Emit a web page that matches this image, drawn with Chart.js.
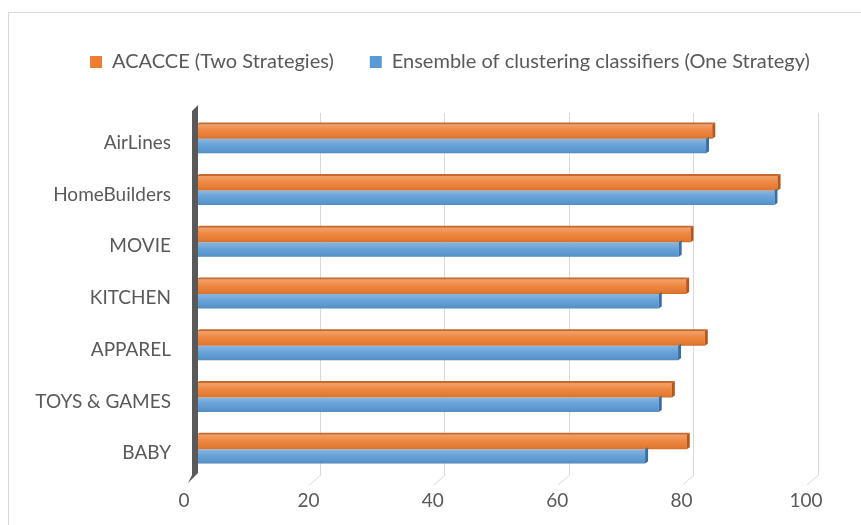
<!DOCTYPE html>
<html><head><meta charset="utf-8">
<script src="https://cdn.jsdelivr.net/npm/chart.js@4/dist/chart.umd.min.js"></script>
<style>html,body{margin:0;padding:0;background:#fff}#wrap{width:861px;height:525px;position:relative}</style>
</head><body><div id="wrap"><canvas id="c" width="861" height="525"></canvas></div>
<script>
const categories = ["AirLines","HomeBuilders","MOVIE","KITCHEN","APPAREL","TOYS & GAMES","BABY"];
const acacce = [83, 93.5, 79.5, 78.8, 81.8, 76.5, 78.9];
const ensemble = [82, 93, 77.6, 74.4, 77.5, 74.4, 72.2];
const seriesNames = ["ACACCE (Two Strategies)", "Ensemble of clustering classifiers (One Strategy)"];
const xTicks = [0,20,40,60,80,100];

const sideColors = ['#b8561a', '#3a6fa5'];
const topColors = ['#c8692c', '#4a82bb'];

const frame = {
  id:'frame',
  afterLayout(chart){
    if (chart.legend) { chart.legend.left += 36; chart.legend.right += 36; }
  },
  beforeDraw(chart){
    const c = chart.ctx; c.save();
    c.fillStyle='#fff'; c.fillRect(0,0,chart.width,chart.height);
    c.strokeStyle='#d9d9d9'; c.lineWidth=1;
    c.strokeRect(8.5,12.5,900,600);
    c.restore();
  },
  afterDatasetsDraw(chart){
    const c = chart.ctx, x = chart.scales.x, a = chart.chartArea;
    c.save();
    chart.data.datasets.forEach((ds, di) => {
      chart.getDatasetMeta(di).data.forEach(el => {
        const top = el.y - el.height/2, bot = el.y + el.height/2, l = el.base, r = el.x;
        const g = c.createLinearGradient(0, top, 0, bot);
        g.addColorStop(0, 'rgba(255,255,255,0.28)');
        g.addColorStop(0.5, 'rgba(255,255,255,0.05)');
        g.addColorStop(1, 'rgba(0,0,0,0.10)');
        c.fillStyle = g; c.fillRect(l, top, r - l, bot - top);
        if (di === 0) {
          c.fillStyle = topColors[di];
          c.beginPath(); c.moveTo(l, top); c.lineTo(r, top); c.lineTo(r+3, top-2); c.lineTo(l+3, top-2); c.closePath(); c.fill();
        }
        c.fillStyle = sideColors[di];
        c.beginPath(); c.moveTo(r, top); c.lineTo(r+3, top-2); c.lineTo(r+3, bot-2); c.lineTo(r, bot); c.closePath(); c.fill();
      });
    });
    c.strokeStyle='#d9d9d9'; c.lineWidth=1;
    xTicks.forEach(v=>{ if(v===0) return; const px = x.getPixelForValue(v);
      c.beginPath(); c.moveTo(px+0.5,a.bottom); c.lineTo(px-11,a.bottom+10); c.stroke(); });
    c.fillStyle='#595959';
    c.beginPath(); c.moveTo(a.left-4,a.top-2); c.lineTo(a.left+2,a.top-8); c.lineTo(a.left+2,a.bottom-2); c.lineTo(a.left-8,a.bottom+8); c.lineTo(a.left-4,a.bottom); c.closePath(); c.fill();
    c.restore();
  }
};

new Chart(document.getElementById('c'), {
  type:'bar',
  data:{ labels:categories, datasets:[
    {label:seriesNames[0], data:acacce, backgroundColor:'#ED7D31', borderWidth:0, categoryPercentage:0.56, barPercentage:1},
    {label:seriesNames[1], data:ensemble, backgroundColor:'#5B9BD5', borderWidth:0, categoryPercentage:0.56, barPercentage:1}
  ]},
  options:{
    indexAxis:'y', responsive:false, animation:false,
    layout:{padding:{top:16,left:10,right:43,bottom:0}},
    plugins:{
      legend:{position:'top', labels:{boxWidth:12, boxHeight:12, padding:36, color:'#595959', font:{family:'Lato', size:20}}},
      tooltip:{enabled:false}
    },
    scales:{
      x:{min:0,max:100, afterBuildTicks(s){ s.ticks = xTicks.map(v=>({value:v})); },
        grid:{color:'#d9d9d9', drawTicks:false}, border:{display:false},
        ticks:{color:'#595959', font:{family:'Lato', size:19}, padding:14, labelOffset:-12},
        afterFit(s){ s.height = 50; } },
      xTop:{type:'linear', position:'top', min:0, max:100, display:true,
        grid:{display:false, drawTicks:false}, border:{display:false},
        ticks:{display:false},
        afterFit(s){ s.height = 31; } },
      y:{ grid:{display:false}, border:{display:false},
        ticks:{color:'#595959', font:{family:'Lato', size:19}, padding:17, labelOffset:4},
        afterFit(s){ s.width = 186; } }
    }
  },
  plugins:[frame]
});
</script></body></html>
